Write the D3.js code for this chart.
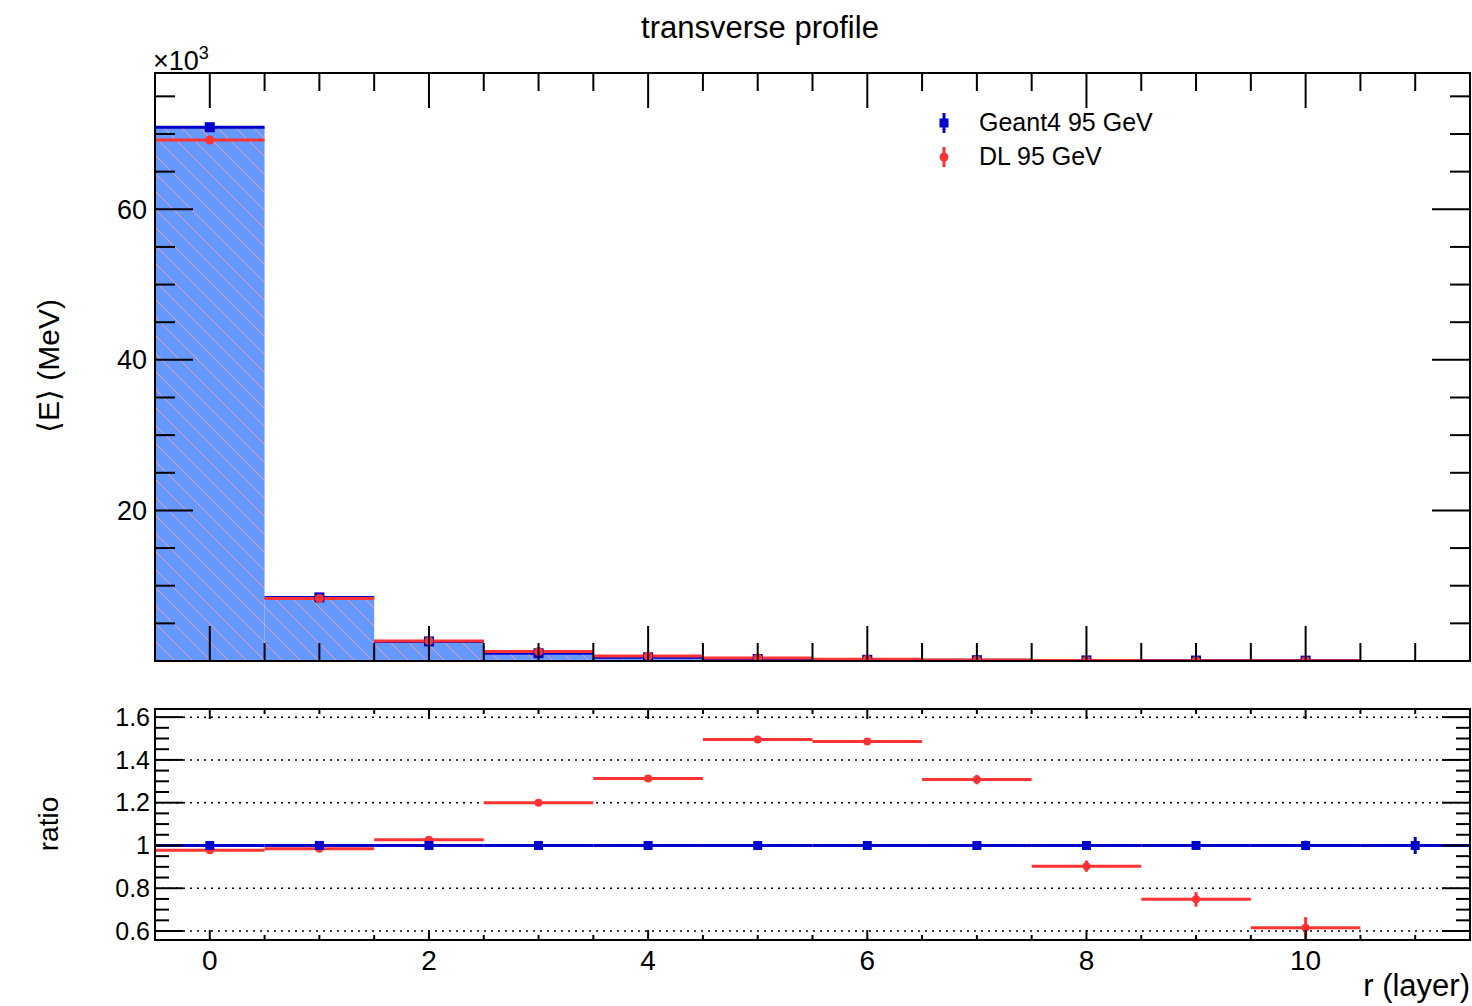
<!DOCTYPE html>
<html>
<head>
<meta charset="utf-8">
<script src="https://cdn.jsdelivr.net/npm/d3@7"></script>
<style>
  body { margin: 0; background: #fff; }
  svg { font-family: "Liberation Sans", Arial, Helvetica, sans-serif; }
</style>
</head>
<body>
<div id="chart"></div>
<script>
// layer index (bin centres)
const layers = [0, 1, 2, 3, 4, 5, 6, 7, 8, 9, 10, 11];
// mean energy in units of 10^3 MeV
const g4Energy = [70.9, 8.45, 2.6, 1.04, 0.5, 0.27, 0.16, 0.11, 0.08, 0.06, 0.05, 0];
const dlEnergy = [69.2, 8.3, 2.67, 1.25, 0.66, 0.4, 0.24, 0.14, 0.07, 0.045, 0.03];
// ratio DL / Geant4 and Geant4 / Geant4
const g4Ratio = [1, 1, 1, 1, 1, 1, 1, 1, 1, 1, 1, 1];
const g4RatioErr = [0.004, 0.004, 0.004, 0.004, 0.004, 0.004, 0.004, 0.005, 0.008, 0.012, 0.022, 0.04];
const dlRatio = [0.978, 0.985, 1.027, 1.2, 1.313, 1.495, 1.486, 1.308, 0.903, 0.748, 0.615];
const dlRatioErr = [0.003, 0.004, 0.005, 0.005, 0.006, 0.01, 0.01, 0.022, 0.026, 0.034, 0.05];

const topTicks = [20, 40, 60];
const ratioTicks = [0.6, 0.8, 1, 1.2, 1.4, 1.6];
const xTicks = [0, 2, 4, 6, 8, 10];

const blue = "#0000cc";
const red = "#ff3333";
const fillBlue = "#6699ff";

const W = 1472, H = 1006;
const left = 155, right = 1470;
const top1 = 73, bot1 = 661;
const top2 = 709, bot2 = 940;

const svg = d3.select("#chart").append("svg")
  .attr("width", W).attr("height", H);

const x = d3.scaleLinear().domain([-0.5, 11.5]).range([left, right]);
const y = d3.scaleLinear().domain([0, 78.1]).range([bot1, top1]);
const yr = d3.scaleLinear().domain([0.558, 1.638]).range([bot2, top2]);

// hatch pattern
const defs = svg.append("defs");
const hs = 18;
const pat = defs.append("pattern")
  .attr("id", "hatch")
  .attr("patternUnits", "userSpaceOnUse")
  .attr("width", hs).attr("height", hs);
pat.append("rect").attr("width", hs).attr("height", hs).attr("fill", fillBlue);
pat.append("path")
  .attr("d", `M-2,-2 L${hs + 2},${hs + 2} M-2,${hs - 2} L2,${hs + 2} M${hs - 2},-2 L${hs + 2},2`)
  .attr("stroke", "#f4a0a0").attr("stroke-width", 1);

defs.append("clipPath").attr("id", "clipTop")
  .append("rect").attr("x", left).attr("y", top1).attr("width", right - left).attr("height", bot1 - top1);
defs.append("clipPath").attr("id", "clipRatio")
  .append("rect").attr("x", left).attr("y", top2).attr("width", right - left).attr("height", bot2 - top2);

const g4Data = layers.map((l, i) => ({ l, v: g4Energy[i] }));
const dlData = dlEnergy.map((v, i) => ({ l: layers[i], v }));

// ---- top panel ----
const topG = svg.append("g").attr("clip-path", "url(#clipTop)");

topG.append("g").selectAll("rect")
  .data(g4Data.filter(d => d.v > 0))
  .join("rect")
  .attr("x", d => x(d.l - 0.5))
  .attr("width", d => x(d.l + 0.5) - x(d.l - 0.5))
  .attr("y", d => y(d.v))
  .attr("height", d => y(0) - y(d.v))
  .attr("fill", "url(#hatch)");

function drawSegments(g, data, yScale, color) {
  g.append("g").selectAll("line")
    .data(data)
    .join("line")
    .attr("x1", d => x(d.l - 0.5))
    .attr("x2", d => x(d.l + 0.5))
    .attr("y1", d => yScale(d.v))
    .attr("y2", d => yScale(d.v))
    .attr("stroke", color)
    .attr("stroke-width", 3);
}

drawSegments(topG, g4Data.filter(d => d.v > 0), y, blue);
drawSegments(topG, dlData, y, red);

topG.append("g").selectAll("rect")
  .data(g4Data.filter(d => d.v > 0))
  .join("rect")
  .attr("x", d => x(d.l) - 5)
  .attr("y", d => y(d.v) - 5)
  .attr("width", 10).attr("height", 10)
  .attr("fill", blue);

topG.append("g").selectAll("circle")
  .data(dlData)
  .join("circle")
  .attr("cx", d => x(d.l))
  .attr("cy", d => y(d.v))
  .attr("r", 4.5)
  .attr("fill", red);

// ---- ratio panel ----
const ratioG = svg.append("g").attr("clip-path", "url(#clipRatio)");

ratioG.append("g").selectAll("line")
  .data(ratioTicks)
  .join("line")
  .attr("x1", left).attr("x2", right)
  .attr("y1", d => yr(d)).attr("y2", d => yr(d))
  .attr("stroke", "#000")
  .attr("stroke-width", 1.5)
  .attr("stroke-dasharray", "2,5");

const g4R = layers.map((l, i) => ({ l, v: g4Ratio[i], e: g4RatioErr[i] }));
const dlR = dlRatio.map((v, i) => ({ l: layers[i], v, e: dlRatioErr[i] }));

drawSegments(ratioG, dlR, yr, red);
drawSegments(ratioG, g4R, yr, blue);

function errBars(g, data, color, w) {
  g.append("g").selectAll("line")
    .data(data)
    .join("line")
    .attr("x1", d => x(d.l)).attr("x2", d => x(d.l))
    .attr("y1", d => yr(d.v - d.e)).attr("y2", d => yr(d.v + d.e))
    .attr("stroke", color).attr("stroke-width", w);
}
errBars(ratioG, dlR, red, 3);
errBars(ratioG, g4R, blue, 3);

ratioG.append("g").selectAll("circle")
  .data(dlR)
  .join("circle")
  .attr("cx", d => x(d.l))
  .attr("cy", d => yr(d.v))
  .attr("r", 4)
  .attr("fill", red);

ratioG.append("g").selectAll("rect")
  .data(g4R)
  .join("rect")
  .attr("x", d => x(d.l) - 4.5)
  .attr("y", d => yr(d.v) - 4.5)
  .attr("width", 9).attr("height", 9)
  .attr("fill", blue);

// ---- axes / frames ----
function frame(t, b) {
  svg.append("rect")
    .attr("x", left).attr("y", t)
    .attr("width", right - left).attr("height", b - t)
    .attr("fill", "none").attr("stroke", "#000").attr("stroke-width", 2);
}

function xTicksFor(t, b, major, minor) {
  const tickVals = d3.range(-0.5, 11.51, 0.5);
  const g = svg.append("g").attr("stroke", "#000").attr("stroke-width", 2);
  tickVals.forEach(v => {
    const len = (Math.abs(v % 2) < 1e-9) ? major : minor;
    g.append("line").attr("x1", x(v)).attr("x2", x(v)).attr("y1", b).attr("y2", b - len);
    g.append("line").attr("x1", x(v)).attr("x2", x(v)).attr("y1", t).attr("y2", t + len);
  });
}

function yTicksFor(scale, vals, majorVals, major, minor) {
  const g = svg.append("g").attr("stroke", "#000").attr("stroke-width", 2);
  vals.forEach(v => {
    const isMajor = majorVals.some(m => Math.abs(m - v) < 1e-9);
    const len = isMajor ? major : minor;
    g.append("line").attr("x1", left).attr("x2", left + len).attr("y1", scale(v)).attr("y2", scale(v));
    g.append("line").attr("x1", right).attr("x2", right - len).attr("y1", scale(v)).attr("y2", scale(v));
  });
}

// top panel ticks
xTicksFor(top1, bot1, 35, 18);
yTicksFor(y, d3.range(5, 78, 5), topTicks, 38, 20);
// ratio ticks
xTicksFor(top2, bot2, 10, 5);
yTicksFor(yr, d3.range(0.6, 1.6001, 0.05).map(v => +v.toFixed(2)), ratioTicks, 28, 14);

frame(top1, bot1);
frame(top2, bot2);

// tick labels
svg.append("g").selectAll("text")
  .data(topTicks)
  .join("text")
  .attr("x", left - 8)
  .attr("y", d => y(d))
  .attr("dy", "0.35em")
  .attr("text-anchor", "end")
  .attr("font-size", 27)
  .text(d => d);

svg.append("g").selectAll("text")
  .data(ratioTicks)
  .join("text")
  .attr("x", left - 5)
  .attr("y", d => yr(d))
  .attr("dy", "0.35em")
  .attr("text-anchor", "end")
  .attr("font-size", 25)
  .text(d => d);

svg.append("g").selectAll("text")
  .data(xTicks)
  .join("text")
  .attr("x", d => x(d))
  .attr("y", 970)
  .attr("text-anchor", "middle")
  .attr("font-size", 28)
  .text(d => d);

// titles
svg.append("text")
  .attr("x", 760).attr("y", 38)
  .attr("text-anchor", "middle")
  .attr("font-size", 31)
  .text("transverse profile");

const mult = svg.append("text")
  .attr("x", 153).attr("y", 70)
  .attr("font-size", 27);
mult.append("tspan").text("×10");
mult.append("tspan").attr("dy", -11).attr("font-size", 18).text("3");

svg.append("text")
  .attr("transform", "translate(59,366) rotate(-90)")
  .attr("text-anchor", "middle")
  .attr("font-size", 30)
  .text("⟨E⟩ (MeV)");

svg.append("text")
  .attr("transform", "translate(58,824) rotate(-90)")
  .attr("text-anchor", "middle")
  .attr("font-size", 28)
  .text("ratio");

svg.append("text")
  .attr("x", right).attr("y", 996)
  .attr("text-anchor", "end")
  .attr("font-size", 31)
  .text("r (layer)");

// legend
const legend = svg.append("g");
const lx = 944;
legend.append("line").attr("x1", lx).attr("x2", lx).attr("y1", 113).attr("y2", 133)
  .attr("stroke", blue).attr("stroke-width", 3);
legend.append("rect").attr("x", lx - 4.5).attr("y", 118.5).attr("width", 9).attr("height", 9).attr("fill", blue);
legend.append("text").attr("x", 979).attr("y", 131).attr("font-size", 25).text("Geant4 95 GeV");

legend.append("line").attr("x1", lx).attr("x2", lx).attr("y1", 147).attr("y2", 167)
  .attr("stroke", red).attr("stroke-width", 3);
legend.append("circle").attr("cx", lx).attr("cy", 157).attr("r", 4.5).attr("fill", red);
legend.append("text").attr("x", 979).attr("y", 165).attr("font-size", 25).text("DL 95 GeV");
</script>
</body>
</html>
